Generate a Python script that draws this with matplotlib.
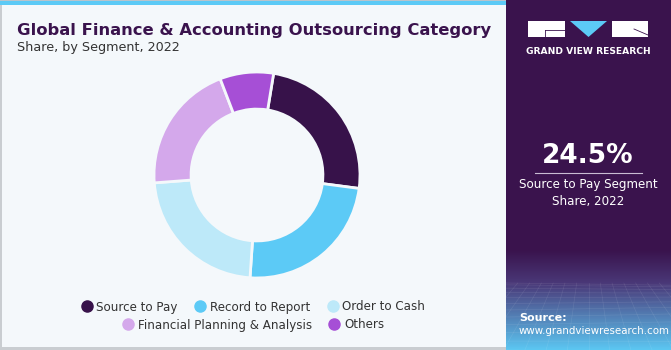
import numpy as np
import matplotlib.pyplot as plt
from matplotlib.patches import Rectangle, Polygon
from matplotlib.lines import Line2D

# Segment shares (%)
segments = ['Source to Pay', 'Record to Report', 'Order to Cash',
            'Financial Planning & Analysis', 'Others']
shares = [24.5, 24.0, 22.7, 20.4, 8.4]
colors = ['#37124a', '#5ccaf6', '#bde9f9', '#d4a8eb', '#a64fd6']

title = 'Global Finance & Accounting Outsourcing Category'
subtitle = 'Share, by Segment, 2022'
highlight = '24.5%'
highlight_note = 'Source to Pay Segment\nShare, 2022'

W, H = 671, 350
bg = '#f4f8fb'
panel = '#3a134d'

fig = plt.figure(figsize=(W / 100, H / 100), dpi=100)
fig.patch.set_facecolor(bg)


def px(x, y):
    """pixel (from top-left) -> figure fraction"""
    return x / W, 1 - y / H


def frect(x0, y0, x1, y1, **kw):
    fig.patches.append(Rectangle(px(x0, y1), (x1 - x0) / W, (y1 - y0) / H,
                                 transform=fig.transFigure, **kw))


# frame + top stripe
frect(0, 0, 2, H, color='#c9cdd1', lw=0)
frect(0, 347, 506, H, color='#c9cdd1', lw=0)
frect(0, 0, 506, 1.5, color='#b8c4cc', lw=0)
frect(0, 1.5, 506, 5, color='#5ccaf6', lw=0)

# right panel
frect(506, 0, W, H, color=panel, lw=0)

# gradient source box with a faint perspective mesh
gax = fig.add_axes([506 / W, 0, (W - 506) / W, (H - 250) / H])
gax.set_zorder(2)
grad = np.linspace(0, 1, 200)[:, None]
stops = np.array([0.0, 0.33, 1.0])
cols = np.array([[0.227, 0.075, 0.302],
                 [0.29, 0.22, 0.47],
                 [0.36, 0.78, 0.95]])
img = np.stack([np.interp(grad[:, 0], stops, cols[:, i]) for i in range(3)], axis=-1)
gax.imshow(np.repeat(img[:, None, :], 2, axis=1), aspect='auto', extent=[0, 1, 1, 0])
for k in range(-14, 28):
    x0 = k / 14
    gax.plot([x0, 0.5 + (x0 - 0.5) * 1.8], [0.33, 1], color='white', alpha=0.09, lw=0.5)
for t in 0.33 + 0.67 * np.linspace(0, 1, 12) ** 1.5:
    gax.plot([0, 1], [t, t + 0.03 * np.sin(t * 7)], color='white', alpha=0.09, lw=0.5)
gax.set_xlim(0, 1)
gax.set_ylim(1, 0)
gax.axis('off')
gax.text(13 / (W - 506), 32 / 100, 'Source:', color='white', fontsize=8, fontweight='bold',
         ha='left', va='center', transform=gax.transAxes)
gax.text(13 / (W - 506), 19 / 100, 'www.grandviewresearch.com', color='white', fontsize=7.4,
         ha='left', va='center', transform=gax.transAxes)

# logo
frect(528, 21, 565, 37, color='white', lw=0)
frect(612, 21, 648, 37, color='white', lw=0)
fig.patches.append(Polygon([px(570, 21), px(607, 21), px(588.5, 37)], closed=True,
                           transform=fig.transFigure, color='#5ccaf6', lw=0))
fig.lines.append(Line2D([545 / W, 565 / W], [1 - 30 / H, 1 - 30 / H], transform=fig.transFigure,
                        color=panel, lw=0.6))
fig.lines.append(Line2D([545 / W, 545 / W], [1 - 30 / H, 1 - 37 / H], transform=fig.transFigure,
                        color=panel, lw=0.6))
fig.lines.append(Line2D([634 / W, 648 / W], [1 - 29 / H, 1 - 35 / H], transform=fig.transFigure,
                        color=panel, lw=0.6))
fig.text(*px(588, 52), 'GRAND VIEW RESEARCH', color='white', fontsize=6.6,
         fontweight='bold', ha='center', va='center')

# highlight figure
fig.text(*px(588, 156), highlight, color='white', fontsize=19, fontweight='bold',
         ha='center', va='center')
fig.lines.append(Line2D([535 / W, 642 / W], [1 - 173 / H, 1 - 173 / H], transform=fig.transFigure,
                        color='#c9bcd3', lw=0.8))
fig.text(*px(588, 193), highlight_note, color='white', fontsize=8.6,
         ha='center', va='center', linespacing=1.35)

# titles
fig.text(*px(17, 30), title, color='#3a134d', fontsize=11.8, fontweight='heavy',
         ha='left', va='center')
fig.text(*px(17, 48), subtitle, color='#333333', fontsize=9.2, ha='left', va='center')

# donut
cx, cy, r = 257, 175, 103
ax = fig.add_axes([(cx - r) / W, 1 - (cy + r) / H, 2 * r / W, 2 * r / H])
ax.pie(shares, colors=colors, startangle=80.7, counterclock=False, radius=1,
       wedgeprops=dict(width=0.36, edgecolor=bg, linewidth=2))
ax.set_xlim(-1, 1)
ax.set_ylim(-1, 1)
ax.set_aspect('auto')
ax.axis('off')

# legend, two centred rows
handles = [Line2D([], [], marker='o', ls='', markersize=8, color=c) for c in colors]
leg_kw = dict(frameon=False, fontsize=8.6, handletextpad=0.3, columnspacing=1.4,
              handlelength=1.0, borderaxespad=0, labelcolor='#333333')
fig.legend(handles[:3], segments[:3], ncol=3, loc='center', bbox_to_anchor=px(253, 307), **leg_kw)
fig.legend(handles[3:], segments[3:], ncol=2, loc='center', bbox_to_anchor=px(253, 325), **leg_kw)

fig.savefig('out.png', dpi=100, facecolor=bg)
